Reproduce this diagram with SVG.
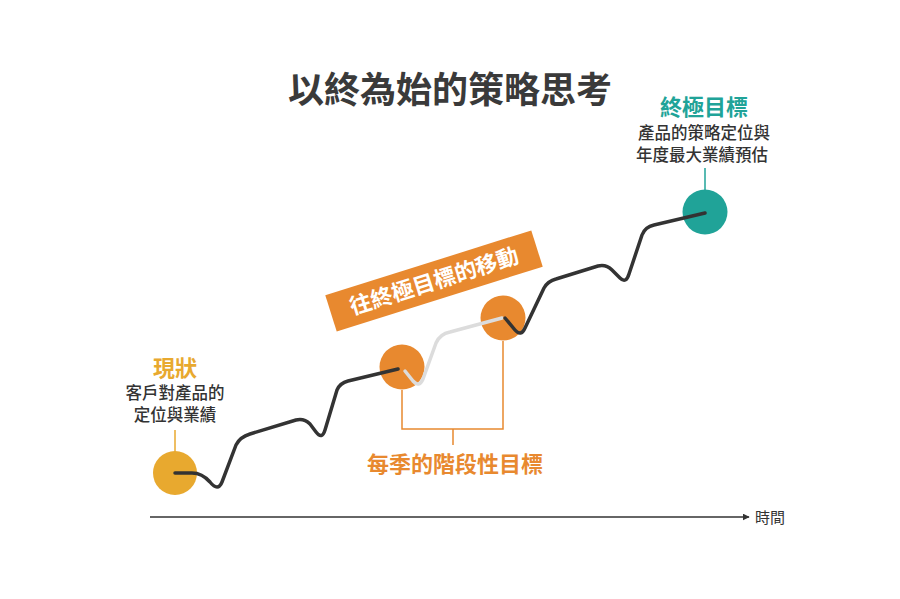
<svg xmlns="http://www.w3.org/2000/svg" width="900" height="599" viewBox="0 0 900 599">
<defs>
<style>
.cjk{font-family:"Noto Sans CJK TC","Noto Sans CJK SC",sans-serif;}
.title{font-size:36px;font-weight:700;fill:#3a3a3a;text-anchor:middle;}
.lbl{font-size:16.5px;font-weight:500;fill:#333;text-anchor:middle;}
.head{font-size:22px;font-weight:700;text-anchor:middle;}
.curve{fill:none;stroke:#333;stroke-width:3.5;stroke-linecap:round;stroke-linejoin:round;}
.ghost{fill:none;stroke:#dcdcdc;stroke-width:3.5;stroke-linecap:round;stroke-linejoin:round;}
</style>
<marker id="arr" viewBox="0 0 10 10" refX="9" refY="5" markerWidth="7" markerHeight="7" markerUnits="userSpaceOnUse" orient="auto">
<path d="M0,0 L10,5 L0,10 z" fill="#333"/>
</marker>
</defs>
<rect width="900" height="599" fill="#fff"/>
<text class="cjk title" x="450" y="103">以終為始的策略思考</text>

<g id="axis">
<line x1="150" y1="517" x2="749" y2="517" stroke="#333" stroke-width="1.6" marker-end="url(#arr)"/>
<text class="cjk" x="755" y="523" font-size="15" fill="#333">時間</text>
</g>

<g id="current">
<line x1="175" y1="430" x2="175" y2="452" stroke="#E8A92F" stroke-width="1.5"/>
<circle cx="175" cy="473" r="22" fill="#E8A92F"/>
<text class="cjk head" x="175" y="376" fill="#E8A92F">現狀</text>
<text class="cjk lbl" x="175" y="399">客戶對產品的</text>
<text class="cjk lbl" x="175" y="421">定位與業績</text>
</g>

<g id="stage1">
<circle cx="402" cy="367" r="22.5" fill="#E8892F"/>
</g>
<g id="stage2">
<circle cx="503" cy="318" r="22.5" fill="#E8892F"/>
</g>

<g id="goal">
<line x1="705" y1="168" x2="705" y2="190" stroke="#20A398" stroke-width="1.5"/>
<circle cx="705" cy="212" r="22.5" fill="#20A398"/>
<text class="cjk head" x="704" y="115" fill="#20A398">終極目標</text>
<text class="cjk lbl" x="704" y="139">產品的策略定位與</text>
<text class="cjk lbl" x="702" y="161">年度最大業績預估</text>
</g>

<g id="banner">
<g transform="translate(434,281) rotate(-17.5)">
<rect x="-108" y="-19" width="216" height="38" fill="#E8892F"/>
<text class="cjk" x="0" y="8" font-size="22" font-weight="700" fill="#fff" text-anchor="middle">往終極目標的移動</text>
</g>
</g>

<g id="stage-label">
<text class="cjk head" x="455" y="472" fill="#E8892F">每季的階段性目標</text>
</g>

<g id="connectors">
<path class="ghost" d="M405,371 L413,381 Q419,388 423,379 L436,343 Q440,334 450,332 L502,318"/>
<path class="curve" d="M175,473 L192,473 Q202,473 210,482 Q218,492 222,482 L236,445 Q240,437 250,434 L296,420 Q304,418 310,424 L316,432 Q322,440 325,430 L337,390 Q340,383 348,381 L398,369"/>
<path class="curve" d="M505,318 L515,330 Q521,337 525,328 L544,288 Q548,281 556,279 L598,266 Q606,264 612,270 L620,278 Q626,284 629,274 L642,235 Q645,227 654,225 L705,213"/>
<path d="M402,390 V429 H503 V341 M453,429 V445" fill="none" stroke="#E8892F" stroke-width="1.5"/>
</g>
</svg>
